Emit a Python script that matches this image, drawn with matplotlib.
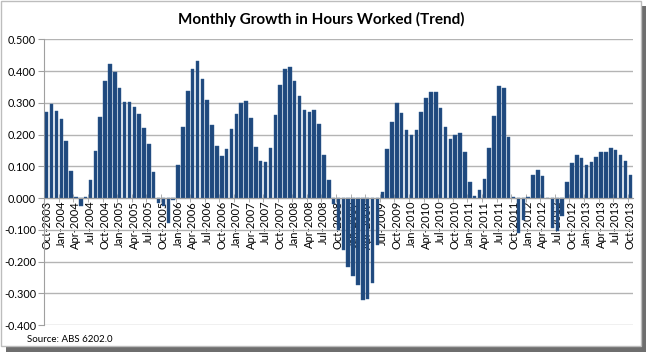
import matplotlib
matplotlib.use("Agg")
import matplotlib.pyplot as plt
import matplotlib.patches as mpatches
import numpy as np
import pandas as pd

# ---- data ----
start_month = "2003-10"
values = [
    0.270, 0.295, 0.274, 0.248, 0.180, 0.084, 0.004, -0.024, 0.003, 0.056,
    0.148, 0.254, 0.368, 0.422, 0.397, 0.348, 0.303, 0.303, 0.286, 0.264,
    0.221, 0.170, 0.082, -0.015, -0.026, -0.080, -0.005, 0.105, 0.225, 0.338,
    0.405, 0.431, 0.375, 0.310, 0.231, 0.164, 0.133, 0.155, 0.219, 0.264,
    0.299, 0.307, 0.252, 0.161, 0.116, 0.114, 0.158, 0.262, 0.355, 0.405,
    0.413, 0.370, 0.321, 0.278, 0.271, 0.278, 0.233, 0.135, 0.058, -0.020,
    -0.100, -0.165, -0.218, -0.246, -0.274, -0.320, -0.318, -0.267, -0.148, 0.019,
    0.153, 0.241, 0.299, 0.268, 0.213, 0.198, 0.213, 0.270, 0.316, 0.333,
    0.333, 0.283, 0.223, 0.187, 0.199, 0.205, 0.146, 0.052, 0.005, 0.025,
    0.060, 0.157, 0.258, 0.354, 0.346, 0.192, 0.003, -0.110, -0.068, 0.002,
    0.072, 0.087, 0.069, 0.000, -0.094, -0.105, -0.058, 0.049, 0.110, 0.135,
    0.127, 0.105, 0.114, 0.129, 0.144, 0.144, 0.157, 0.150, 0.137, 0.116,
    0.071,
]
months = pd.period_range(start=start_month, periods=len(values), freq="M")
month_labels = [p.strftime("%b-%Y") for p in months]
y_ticks = [0.5, 0.4, 0.3, 0.2, 0.1, 0.0, -0.1, -0.2, -0.3, -0.4]
title = "Monthly Growth in Hours Worked (Trend)"
source = "Source: ABS 6202.0"

plt.rcParams["font.family"] = ["Lato", "DejaVu Sans"]

# ---- figure ----
W, H = 648, 353
fig = plt.figure(figsize=(W / 100, H / 100), dpi=100)
fig.patch.set_facecolor("white")

def fx(px):
    return px / W

def fy(py):
    return 1 - py / H

# chart frame + shadow
fig.patches.append(mpatches.Rectangle((fx(6), fy(352)), fx(641) - fx(6), fy(346) - fy(352),
                                      transform=fig.transFigure, facecolor="#6e6e6e",
                                      edgecolor="none", zorder=-3))
fig.patches.append(mpatches.Rectangle((fx(641), fy(352)), fx(646) - fx(641), fy(6) - fy(352),
                                      transform=fig.transFigure, facecolor="#6e6e6e",
                                      edgecolor="none", zorder=-3))
fig.patches.append(mpatches.Rectangle((fx(1), fy(346)), fx(641) - fx(1), fy(1) - fy(346),
                                      transform=fig.transFigure, facecolor="white",
                                      edgecolor="#bdbdbd", lw=1, zorder=-2))

left, right, top, bottom = 44.3, 632.7, 39.3, 325.0
ax = fig.add_axes([fx(left), fy(bottom), fx(right) - fx(left), fy(top) - fy(bottom)])
ax.set_zorder(2)
ax.set_facecolor("none")

x = np.arange(len(values))
ax.bar(x, values, width=0.72, color="#1F497D", edgecolor="#2E5C94", linewidth=0.3, zorder=3)

ax.set_xlim(-0.5, len(values) - 0.5)
ax.set_ylim(-0.4, 0.5)
ax.set_yticks(y_ticks, labels=[f"{v:.3f}" for v in y_ticks])
ax.yaxis.grid(True, color="#b4b4b4", lw=1.0, zorder=0)
ax.set_axisbelow(True)

label_idx = [i for i, p in enumerate(months) if p.month in (1, 4, 7, 10)]
ax.set_xticks(label_idx, labels=[month_labels[i] for i in label_idx])
ax.set_xticks([i - 0.5 for i in label_idx], minor=True)
ax.tick_params(axis="x", which="major", length=0, pad=2, labelrotation=90, labelsize=8)
ax.tick_params(axis="x", which="minor", length=6, direction="inout", color="#a0a0a0")
ax.tick_params(axis="y", length=4, color="#a0a0a0", labelsize=7.8, pad=2)

for s in ["top", "right"]:
    ax.spines[s].set_visible(False)
ax.spines["left"].set_color("#a0a0a0")
ax.spines["bottom"].set_position(("data", 0))
ax.spines["bottom"].set_color("#a0a0a0")
ax.spines["bottom"].set_zorder(4)

fig.text(0.496, fy(19), title, ha="center", va="center", fontsize=11,
         fontweight="bold")
fig.text(fx(27), fy(340), source, ha="left", va="center", fontsize=7)

fig.savefig("out.png", dpi=100, facecolor="white")
